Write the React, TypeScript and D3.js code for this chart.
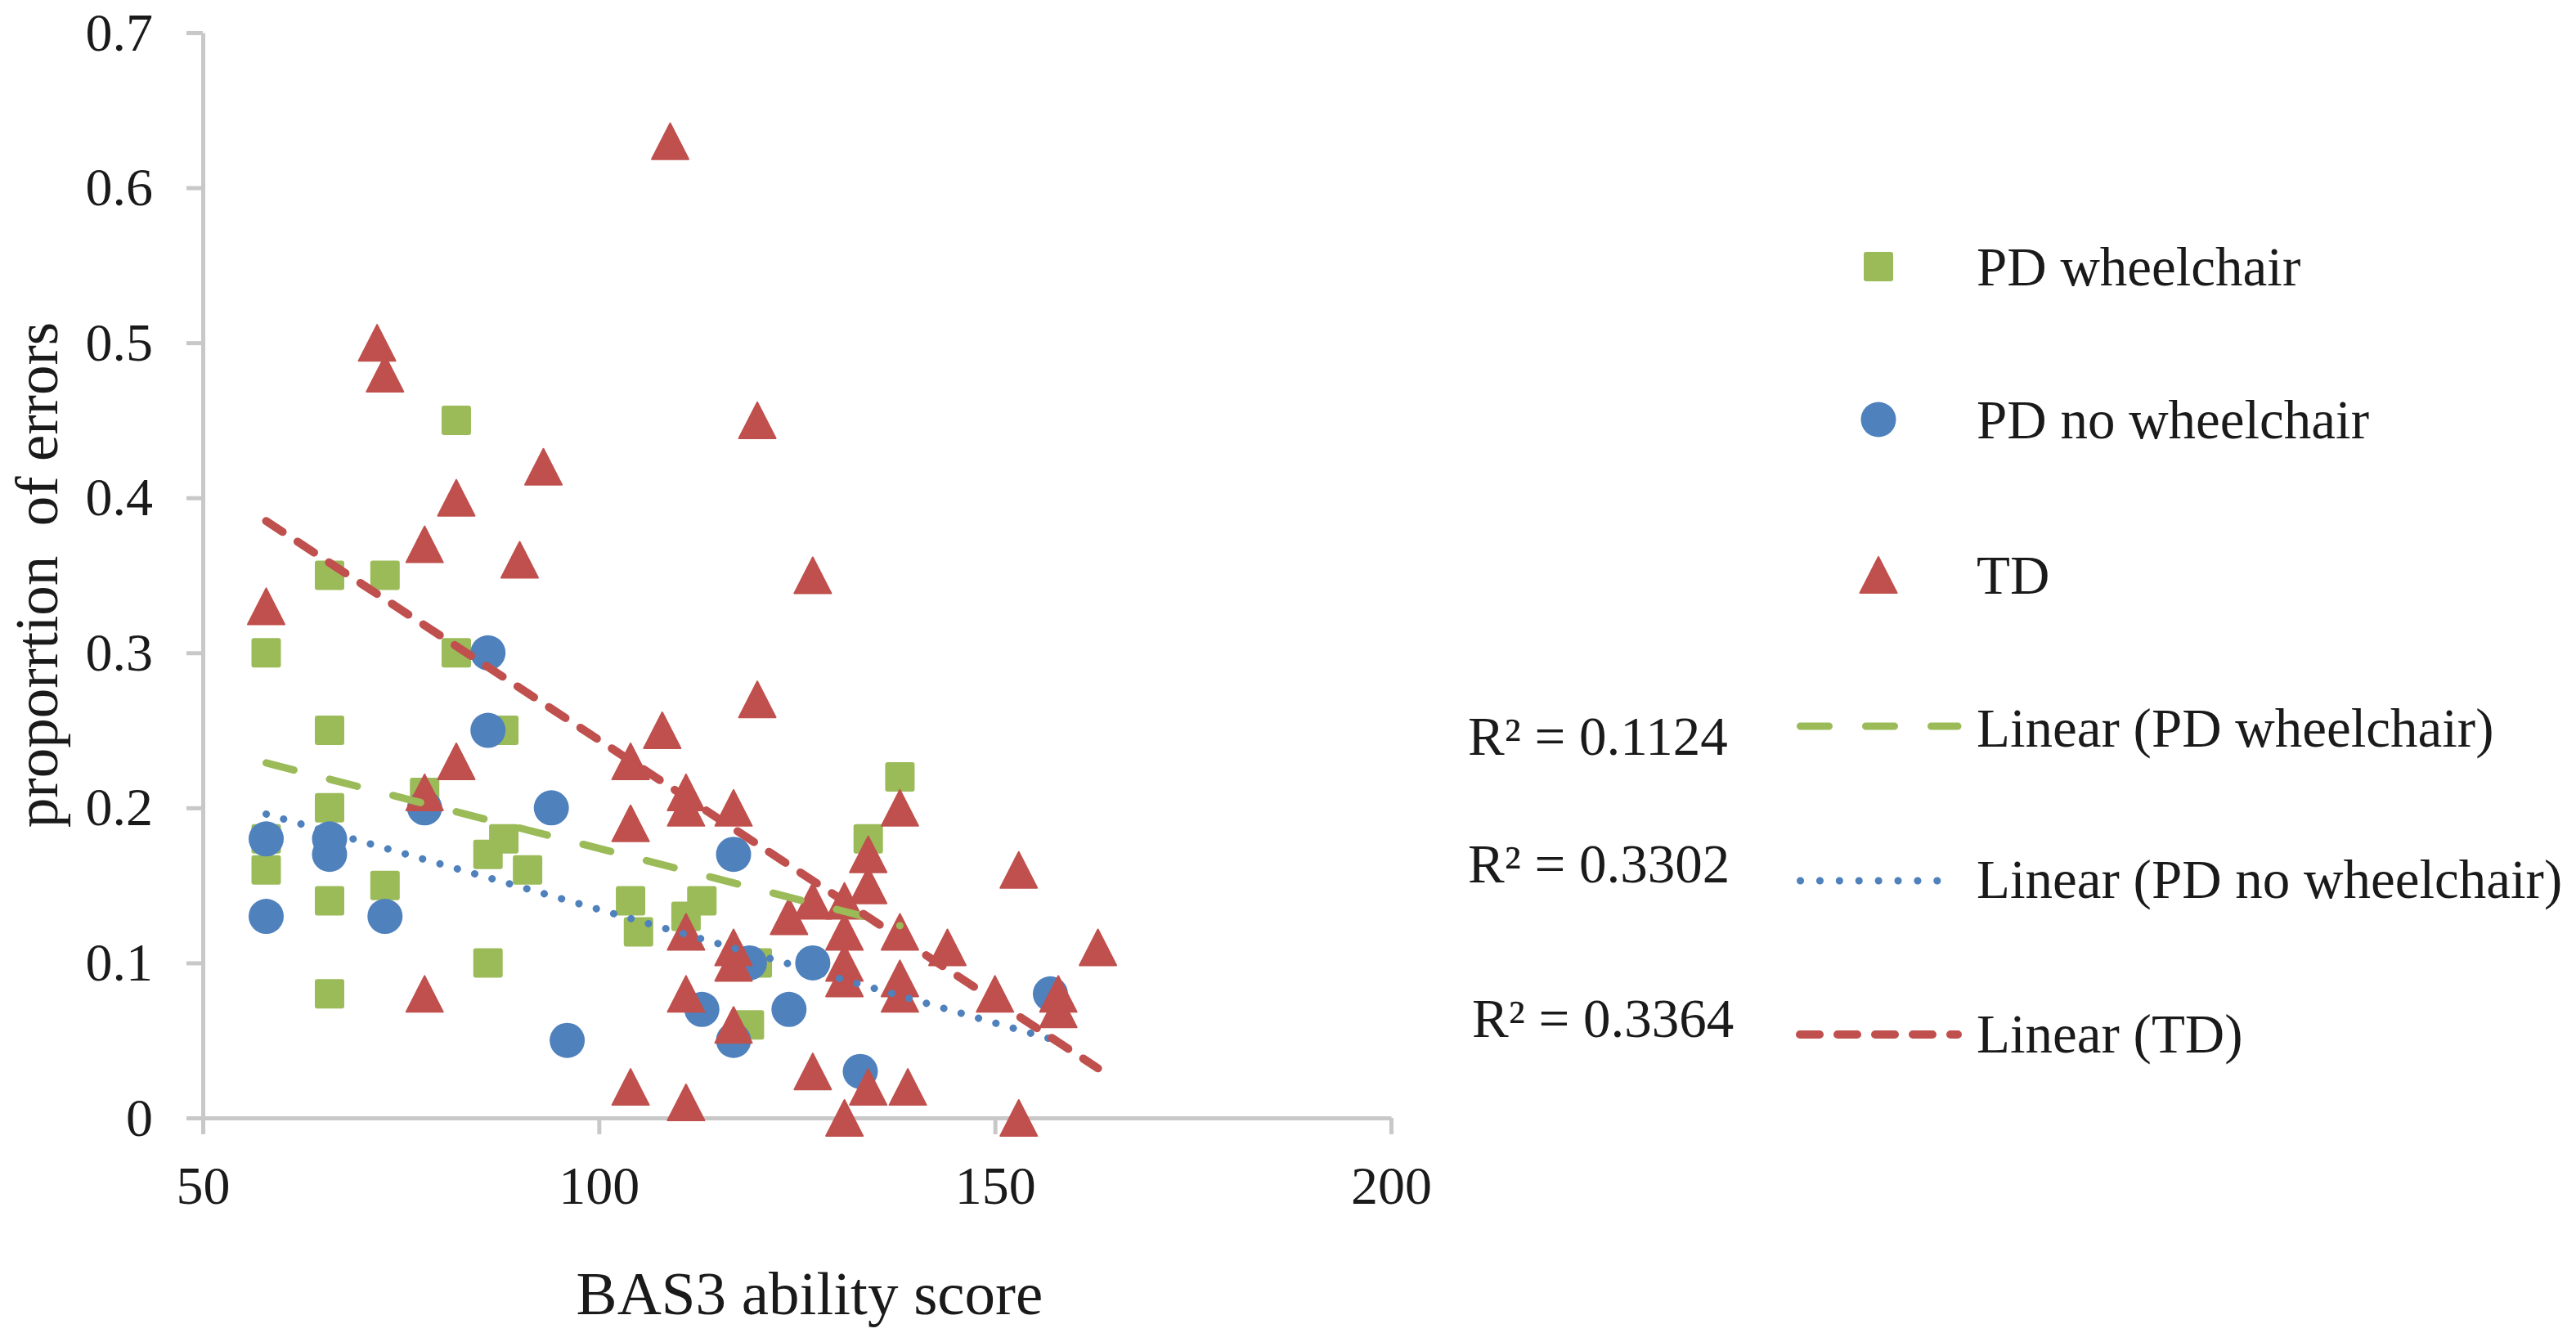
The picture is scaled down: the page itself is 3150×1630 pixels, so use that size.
import { useEffect, useRef } from "react";
import * as d3 from "d3";

// BAS3 ability score vs proportion of errors, three groups
const pdWheelchair: [number, number][] = [
  [58, 0.30], [58, 0.18], [58, 0.16], [66, 0.35], [66, 0.25], [66, 0.20], [66, 0.14], [66, 0.08],
  [73, 0.35], [73, 0.15], [78, 0.21], [82, 0.45], [82, 0.30], [86, 0.17], [86, 0.10], [88, 0.25],
  [88, 0.18], [91, 0.16], [104, 0.14], [105, 0.12], [111, 0.13], [113, 0.14], [119, 0.06],
  [120, 0.10], [134, 0.18], [138, 0.22],
];

const pdNoWheelchair: [number, number][] = [
  [58, 0.18], [58, 0.13], [66, 0.18], [66, 0.17], [73, 0.13], [78, 0.20], [86, 0.30], [86, 0.25],
  [94, 0.20], [96, 0.05], [113, 0.07], [117, 0.17], [117, 0.05], [119, 0.10], [124, 0.07],
  [127, 0.10], [133, 0.03], [157, 0.08],
];

const td: [number, number][] = [
  [58, 0.33], [72, 0.50], [73, 0.48], [78, 0.37], [78, 0.21], [78, 0.08], [82, 0.40], [82, 0.23],
  [90, 0.36], [93, 0.42], [104, 0.23], [104, 0.19], [104, 0.02], [108, 0.25], [109, 0.63],
  [111, 0.21], [111, 0.20], [111, 0.12], [111, 0.08], [111, 0.01], [117, 0.20], [117, 0.11],
  [117, 0.10], [117, 0.06], [120, 0.45], [120, 0.27], [124, 0.13], [127, 0.35], [127, 0.14],
  [127, 0.03], [131, 0.14], [131, 0.12], [131, 0.10], [131, 0.09], [131, 0.00], [134, 0.17],
  [134, 0.15], [134, 0.02], [138, 0.20], [138, 0.12], [138, 0.09], [138, 0.08], [139, 0.02],
  [144, 0.11], [150, 0.08], [153, 0.16], [153, 0.00], [158, 0.08], [158, 0.07], [163, 0.11],
];

// linear trend lines, end points
const trendWheelchair: [number, number][] = [[58, 0.229], [138, 0.124]];
const trendNoWheelchair: [number, number][] = [[58, 0.196], [157, 0.051]];
const trendTD: [number, number][] = [[58, 0.385], [163, 0.032]];

const xTicks = [50, 100, 150, 200];
const yTicks = [0, 0.1, 0.2, 0.3, 0.4, 0.5, 0.6, 0.7];
const yTickLabels = ["0", "0.1", "0.2", "0.3", "0.4", "0.5", "0.6", "0.7"];

const seriesNames = ["PD wheelchair", "PD no wheelchair", "TD"];
const trendNames = ["Linear (PD wheelchair)", "Linear (PD no wheelchair)", "Linear (TD)"];
const rSquared = ["R² = 0.1124", "R² = 0.3302", "R² = 0.3364"];

const GREEN = "#9BBB59";
const BLUE = "#4F81BD";
const RED = "#C0504D";
const AXIS = "#c8c8c8";
const FONT = "'Liberation Serif', 'Times New Roman', serif";

const W = 3150;
const H = 1630;

const triPath = "M0,-22L22.5,22L-22.5,22Z";

export default function App() {
  const svgRef = useRef<SVGSVGElement | null>(null);

  useEffect(() => {
    document.body.style.margin = "0";
    const svg = d3.select(svgRef.current);
    svg.selectAll("*").remove();

    const x = d3.scaleLinear().domain([50, 200]).range([248, 1701]);
    const y = d3.scaleLinear().domain([0, 0.7]).range([1367, 40]);

    // axes
    const gx = svg.append("g").attr("transform", `translate(0,${y(0)})`)
      .call(d3.axisBottom(x).tickValues(xTicks).tickSize(20).tickPadding(38).tickSizeOuter(0));
    const gy = svg.append("g").attr("transform", `translate(${x(50)},0)`)
      .call(d3.axisLeft(y).tickValues(yTicks).tickFormat((_, i) => yTickLabels[i]).tickSize(20).tickPadding(41).tickSizeOuter(0));
    [gx, gy].forEach(g => {
      g.attr("font-family", FONT).attr("font-size", 66).attr("color", AXIS);
      g.selectAll("path, line").attr("stroke-width", 5);
      g.selectAll("text").attr("fill", "#1a1a1a");
    });

    svg.append("text").attr("x", 990).attr("y", 1607).attr("text-anchor", "middle")
      .attr("font-family", FONT).attr("font-size", 75).attr("fill", "#1a1a1a")
      .text("BAS3 ability score");
    svg.append("text").attr("transform", "translate(70,703) rotate(-90)").attr("text-anchor", "middle")
      .attr("xml:space", "preserve").style("white-space", "pre")
      .attr("font-family", FONT).attr("font-size", 73).attr("fill", "#1a1a1a")
      .text("proporrtion  of errors");

    // markers
    svg.append("g").selectAll("rect").data(pdWheelchair).join("rect")
      .attr("x", d => x(d[0]) - 18).attr("y", d => y(d[1]) - 18)
      .attr("width", 36).attr("height", 36).attr("rx", 3).attr("fill", GREEN);
    svg.append("g").selectAll("circle").data(pdNoWheelchair).join("circle")
      .attr("cx", d => x(d[0])).attr("cy", d => y(d[1])).attr("r", 21.5).attr("fill", BLUE);
    svg.append("g").selectAll("path").data(td).join("path")
      .attr("d", triPath).attr("transform", d => `translate(${x(d[0])},${y(d[1])})`)
      .attr("fill", RED).attr("stroke", RED).attr("stroke-width", 2).attr("stroke-linejoin", "round");

    // trend lines
    const line = d3.line<[number, number]>().x(d => x(d[0])).y(d => y(d[1]));
    const trendStyles = [
      { data: trendWheelchair, color: GREEN, width: 9, dash: "35 45" },
      { data: trendNoWheelchair, color: BLUE, width: 9, dash: "0.1 22" },
      { data: trendTD, color: RED, width: 10, dash: "24 22" },
    ];
    trendStyles.forEach(t => {
      svg.append("path").datum(t.data).attr("d", line).attr("fill", "none")
        .attr("stroke", t.color).attr("stroke-width", t.width)
        .attr("stroke-dasharray", t.dash).attr("stroke-linecap", "round");
    });

    // legend
    const lg = svg.append("g").attr("font-family", FONT).attr("font-size", 67).attr("fill", "#1a1a1a");
    const markerX = 2297;
    const textX = 2417;
    const markerY = [326, 513, 703];
    lg.append("rect").attr("x", markerX - 18).attr("y", markerY[0] - 18).attr("width", 36).attr("height", 36).attr("rx", 3).attr("fill", GREEN);
    lg.append("circle").attr("cx", markerX).attr("cy", markerY[1]).attr("r", 21.5).attr("fill", BLUE);
    lg.append("path").attr("d", triPath).attr("transform", `translate(${markerX},${markerY[2]})`)
      .attr("fill", RED).attr("stroke", RED).attr("stroke-width", 2).attr("stroke-linejoin", "round");
    seriesNames.forEach((n, i) => {
      lg.append("text").attr("x", textX).attr("y", markerY[i] + 23).text(n);
    });

    const lineY = [888, 1077, 1265];
    const trendBase = [913, 1098, 1287];
    const rBase = [923, 1079, 1268];
    const rX = [1795, 1795, 1800];
    const legendLines = [
      { x1: 2201.5, x2: 2394 },
      { x1: 2201.5, x2: 2392 },
      { x1: 2201, x2: 2394 },
    ];
    trendStyles.forEach((t, i) => {
      lg.append("line").attr("x1", legendLines[i].x1).attr("x2", legendLines[i].x2)
        .attr("y1", lineY[i]).attr("y2", lineY[i])
        .attr("stroke", t.color).attr("stroke-width", t.width)
        .attr("stroke-dasharray", i === 1 ? "0.1 23.8" : t.dash).attr("stroke-linecap", "round");
      lg.append("text").attr("x", textX).attr("y", trendBase[i]).text(trendNames[i]);
      lg.append("text").attr("x", rX[i]).attr("y", rBase[i]).text(rSquared[i]);
    });
  }, []);

  return (
    <svg ref={svgRef} width={W} height={H}
      style={{ display: "block", position: "absolute", left: 0, top: 0, background: "#fff" }} />
  );
}
